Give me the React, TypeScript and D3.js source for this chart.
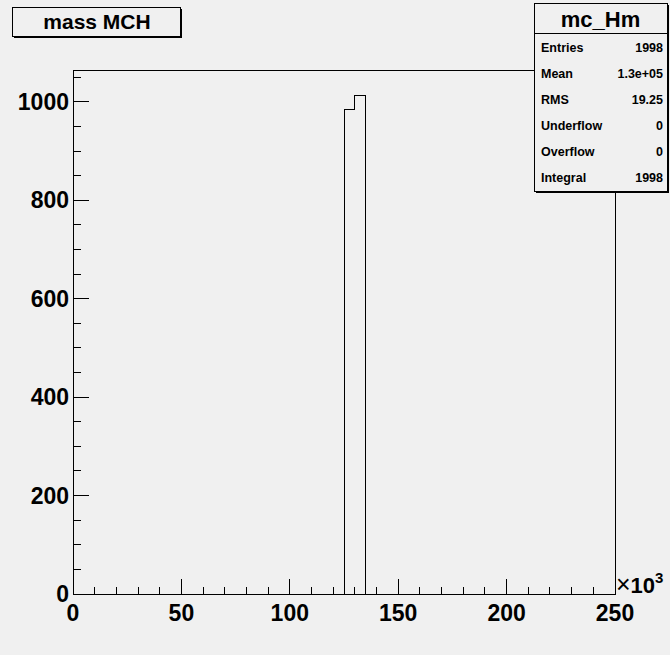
import { useEffect, useRef } from 'react'
import * as d3 from 'd3'

// histogram bins (x in units of 10^3)
const binLow = [125, 130]
const binWidth = 5
const binCounts = [984, 1014]

const xTicks = [0, 50, 100, 150, 200, 250]
const yTicks = [0, 200, 400, 600, 800, 1000]

const statLabels = ['Entries', 'Mean', 'RMS', 'Underflow', 'Overflow', 'Integral']
const statValues = ['1998', '1.3e+05', '19.25', '0', '0', '1998']

const FONT = '"Liberation Sans", Arial, Helvetica, sans-serif'

function App() {
  const ref = useRef<SVGSVGElement>(null)

  useEffect(() => {
    const width = 670,
      height = 655
    const left = 73,
      right = 615,
      top = 70,
      bottom = 594

    const x = d3.scaleLinear().domain([0, 250]).range([left, right])
    const y = d3.scaleLinear().domain([0, 1065]).range([bottom, top])

    const svg = d3.select(ref.current)
    svg.selectAll('*').remove()
    svg.attr('width', width).attr('height', height)

    svg.append('rect').attr('width', width).attr('height', height).attr('fill', '#f0f0f0')

    // frame
    svg
      .append('rect')
      .attr('x', left)
      .attr('y', top)
      .attr('width', right - left)
      .attr('height', bottom - top)
      .attr('fill', 'none')
      .attr('stroke', '#000')
      .attr('stroke-width', 1)
      .attr('shape-rendering', 'crispEdges')

    // histogram outline
    const pts: [number, number][] = [[binLow[0], 0]]
    binLow.forEach((lo, i) => {
      pts.push([lo, binCounts[i]])
    })
    pts.push([binLow[binLow.length - 1] + binWidth, binCounts[binCounts.length - 1]])
    pts.push([binLow[binLow.length - 1] + binWidth, 0])
    const line = d3
      .line<[number, number]>()
      .x((d) => x(d[0]))
      .y((d) => y(d[1]))
      .curve(d3.curveStepAfter)
    svg
      .append('path')
      .attr('d', line(pts))
      .attr('fill', 'none')
      .attr('stroke', '#000')
      .attr('stroke-width', 1)
      .attr('shape-rendering', 'crispEdges')

    // x axis ticks
    const xg = svg.append('g').attr('shape-rendering', 'crispEdges')
    d3.range(0, 251, 10).forEach((v) => {
      const major = v % 50 === 0
      xg.append('line')
        .attr('x1', x(v))
        .attr('x2', x(v))
        .attr('y1', bottom)
        .attr('y2', bottom - (major ? 15 : 7))
        .attr('stroke', '#000')
    })
    xTicks.forEach((v) => {
      svg
        .append('text')
        .attr('x', x(v))
        .attr('y', 621)
        .attr('text-anchor', 'middle')
        .attr('font-family', FONT)
        .attr('font-weight', 'bold')
        .attr('font-size', 23)
        .text(v)
    })

    // y axis ticks
    const yg = svg.append('g').attr('shape-rendering', 'crispEdges')
    d3.range(0, 1065, 50).forEach((v) => {
      const major = v % 200 === 0
      yg.append('line')
        .attr('x1', left)
        .attr('x2', left + (major ? 16 : 8))
        .attr('y1', y(v))
        .attr('y2', y(v))
        .attr('stroke', '#000')
    })
    yTicks.forEach((v) => {
      svg
        .append('text')
        .attr('x', 69)
        .attr('y', y(v) + 8)
        .attr('text-anchor', 'end')
        .attr('font-family', FONT)
        .attr('font-weight', 'bold')
        .attr('font-size', 23)
        .text(v)
    })

    // x10^3 exponent
    const ex = svg
      .append('text')
      .attr('x', 616)
      .attr('y', 593)
      .attr('font-family', FONT)
      .attr('font-size', 22)
    ex.append('tspan').attr('font-size', 25).text('\u00d7')
    ex.append('tspan').attr('font-weight', 'bold').text('10')
    ex.append('tspan').attr('font-weight', 'bold').attr('font-size', 15).attr('dy', -10).text('3')

    // title box
    svg.append('rect').attr('x', 14).attr('y', 9).attr('width', 168).attr('height', 29).attr('fill', '#000')
    svg
      .append('rect')
      .attr('x', 12.5)
      .attr('y', 7.5)
      .attr('width', 168)
      .attr('height', 29)
      .attr('fill', '#f0f0f0')
      .attr('stroke', '#000')
    svg
      .append('text')
      .attr('x', 97)
      .attr('y', 29)
      .attr('text-anchor', 'middle')
      .attr('font-family', FONT)
      .attr('font-weight', 'bold')
      .attr('font-size', 21)
      .text('mass MCH')

    // stats box
    const sx = 534,
      sy = 3,
      sw = 133,
      sh = 188
    svg.append('rect').attr('x', sx + 2).attr('y', sy + 2).attr('width', sw).attr('height', sh).attr('fill', '#000')
    svg
      .append('rect')
      .attr('x', sx + 0.5)
      .attr('y', sy + 0.5)
      .attr('width', sw)
      .attr('height', sh)
      .attr('fill', '#f0f0f0')
      .attr('stroke', '#000')
    svg
      .append('line')
      .attr('x1', sx)
      .attr('x2', sx + sw)
      .attr('y1', 33.5)
      .attr('y2', 33.5)
      .attr('stroke', '#000')
    svg
      .append('text')
      .attr('x', sx + sw / 2)
      .attr('y', 27)
      .attr('text-anchor', 'middle')
      .attr('font-family', FONT)
      .attr('font-weight', 'bold')
      .attr('font-size', 22)
      .text('mc_Hm')
    statLabels.forEach((lab, i) => {
      const yy = 52 + i * 26
      svg
        .append('text')
        .attr('x', sx + 7)
        .attr('y', yy)
        .attr('font-family', FONT)
        .attr('font-weight', 'bold')
        .attr('font-size', 12.5)
        .text(lab)
      svg
        .append('text')
        .attr('x', sx + sw - 4)
        .attr('y', yy)
        .attr('text-anchor', 'end')
        .attr('font-family', FONT)
        .attr('font-weight', 'bold')
        .attr('font-size', 12.5)
        .text(statValues[i])
    })
  })

  return <svg ref={ref} style={{ position: 'absolute', left: 0, top: 0 }}></svg>
}

export default App
